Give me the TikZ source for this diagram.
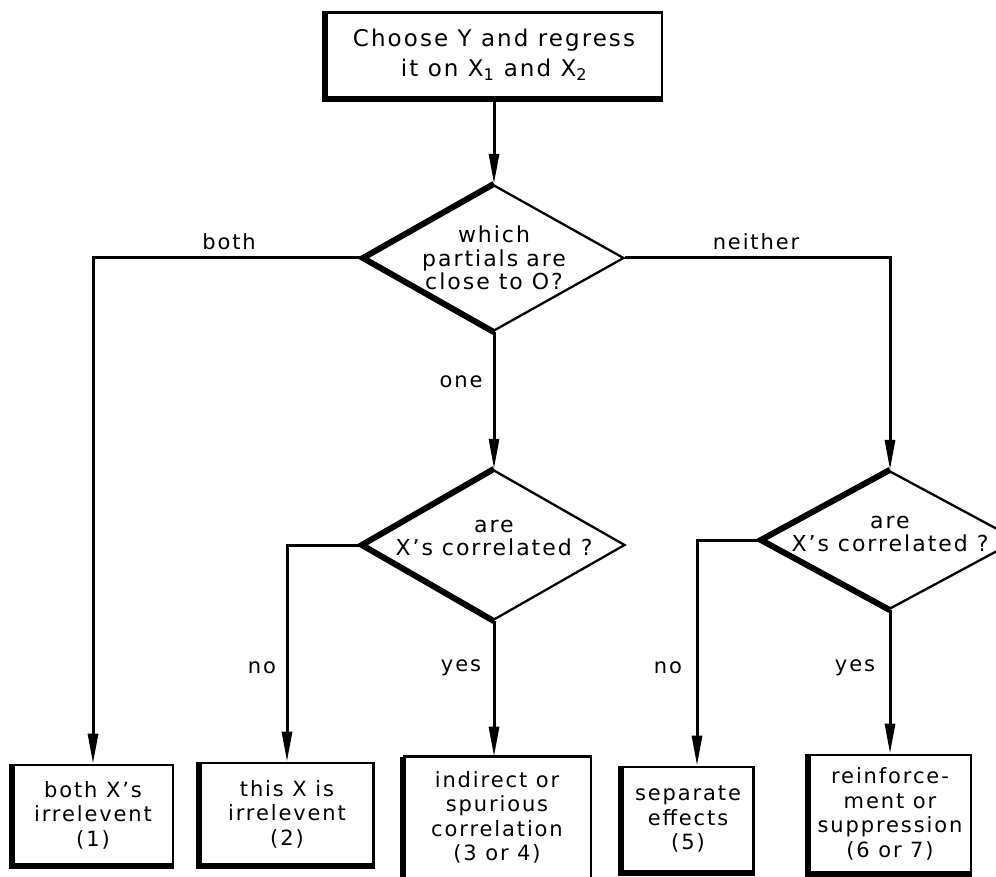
\documentclass[tikz,border=0pt]{standalone}
\usepackage{fontspec}
\setmainfont{DejaVu Sans}[LetterSpace=9]
\usetikzlibrary{shapes.geometric,arrows.meta}
\begin{document}
\begin{tikzpicture}[x=1pt,y=-1pt,
  line width=3pt,
  arr/.style={-{Triangle[length=30pt,width=10pt]}},
  thk/.style={line width=6pt},
  dia/.style={diamond,draw,line width=2.3pt,inner sep=0pt},
  rbox/.style={rectangle,draw,line width=2.6pt,inner sep=0pt,align=center,font=\fontsize{21}{24.5}\selectfont},
  dtext/.style={align=center,font=\fontsize{22}{23.5}\selectfont},
  lab/.style={font=\fontsize{21}{24}\selectfont}]
\useasboundingbox (0,0) rectangle (996,877);
\fill[white] (0,0) rectangle (996,877);
\clip (0,0) rectangle (996,877);
% top box
\node[rbox,minimum width=336pt,minimum height=85pt,font=\fontsize{23}{30}\selectfont] (top) at (494,55)
  {Choose Y and regress\\it on X\textsubscript{1} and X\textsubscript{2}};
\draw[thk] (top.north west) -- (top.south west) -- (top.south east);
% diamonds
\node[dia,minimum width=260pt,minimum height=146pt] (d1) at (494,258) {};
\node[dtext] at (d1) {which\\partials\hspace{8pt}are\\close to O?};
\draw[thk] (d1.north) -- (d1.west) -- (d1.south);
\node[dia,minimum width=262pt,minimum height=150pt] (d2) at (494,545) {};
\node[dtext] at ([yshift=7pt]d2.center) {are\\X's correlated ?};
\draw[thk] (d2.north) -- (d2.west) -- (d2.south);
\node[dia,minimum width=256pt,minimum height=138pt] (d3) at (890,540) {};
\node[dtext] at ([yshift=6pt]d3.center) {are\\X's correlated ?};
\draw[thk] (d3.north) -- (d3.west) -- (d3.south);
% result boxes
\node[rbox,minimum width=160pt,minimum height=100pt] (b1) at (93,815) {both X's\\irrelevent\\(1)};
\draw[thk] (b1.north west) -- (b1.south west) -- (b1.south east);
\node[rbox,minimum width=173pt,minimum height=102pt] (b2) at (287,814) {this X is\\irrelevent\\(2)};
\draw[thk] (b2.north west) -- (b2.south west) -- (b2.south east);
\node[rbox,draw=none,minimum width=185pt,minimum height=119pt] (b3) at (497,817.5) {indirect or\\spurious\\correlation\\(3 or 4)};
\draw[line width=2.6pt] ([yshift=-40pt]b3.south east) -- (b3.north east) -- (b3.north west);
\draw[thk] (b3.north west) -- ([yshift=-40pt]b3.south west);
\node[rbox,minimum width=131pt,minimum height=105pt] (b4) at (688,819.5) {separate\\effects\\(5)};
\draw[thk] (b4.north west) -- (b4.south west) -- (b4.south east);
\node[rbox,minimum width=162pt,minimum height=118pt] (b5) at (890,814) {reinforce-\\ment or\\suppression\\(6 or 7)};
\draw[thk] (b5.north west) -- (b5.south west) -- (b5.south east);
% connectors
\draw[arr] (top.south) -- (d1.north);
\draw[arr] (d1.west) -| (b1.north);
\draw[arr] (d1.east) -| (d3.north);
\draw[arr] (d1.south) -- (d2.north);
\draw[arr] (d2.west) -| (b2.north);
\draw[arr] (d2.south) -- (d2.south |- b3.north);
\draw[arr] (d3.west) -| ([xshift=9pt]b4.north);
\draw[arr] (d3.south) -- (b5.north);
% labels
\node[lab] (lboth) at (229,242) {both};
\node[lab] (lneither) at (756,242) {neither};
\node[lab] (lone) at (461,382) {one};
\node[lab] (lno1) at (262,668) {no};
\node[lab] (lyes1) at (461,668) {yes};
\node[lab] (lno2) at (668,668) {no};
\node[lab] (lyes2) at (855,668) {yes};
\end{tikzpicture}
\end{document}
